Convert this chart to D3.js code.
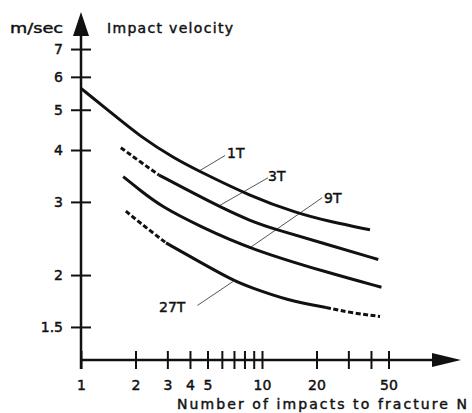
<!DOCTYPE html>
<html>
<head>
<meta charset="utf-8">
<script src="https://cdn.jsdelivr.net/npm/d3@7"></script>
<style>
  html, body { margin: 0; padding: 0; background: #fff; }
  svg { display: block; }
  text { font-family: "DejaVu Sans", sans-serif; fill: #111; stroke: #111; stroke-width: 0.45px; }
</style>
</head>
<body>
<svg id="chart" width="472" height="413"></svg>
<script>
// ---- data ----
const seriesNames = ["1T", "3T", "9T", "27T"];

// 1T (solid)
const t1N = [1, 1.41, 2.12, 3.31, 4.54, 8.59, 15.5, 23.7, 39.5];
const t1V = [5.63, 4.99, 4.31, 3.81, 3.55, 3.10, 2.82, 2.69, 2.57];

// 3T (dashed start, then solid)
const t3DashN = [1.66, 2.12, 2.70];
const t3DashV = [4.05, 3.75, 3.48];
const t3N = [2.70, 4.54, 5.86, 8.59, 12.06, 23.7, 43.9];
const t3V = [3.48, 3.09, 2.92, 2.70, 2.57, 2.36, 2.18];

// 9T (solid)
const t9N = [1.71, 2.12, 2.79, 4.54, 8.59, 23.7, 45.7];
const t9V = [3.45, 3.20, 2.92, 2.62, 2.31, 2.02, 1.87];

// 27T (dashed start, solid, dashed end)
const t27DashN = [1.77, 2.12, 2.95];
const t27DashV = [2.85, 2.67, 2.39];
const t27N = [2.95, 4.54, 7.09, 8.59, 13.7, 22.6];
const t27V = [2.39, 2.15, 1.93, 1.87, 1.74, 1.67];
const t27TailN = [22.6, 31.8, 44.9];
const t27TailV = [1.67, 1.62, 1.59];

const xTickValues = [1, 2, 3, 4, 5, 6, 7, 8, 9, 10, 20, 30, 40, 50];
const xTickLabels = ["1", "2", "3", "4", "5", "10", "20", "50"];
const yTickValues = [1.5, 2, 3, 4, 5, 6, 7];
const yTickLabels = ["1.5", "2", "3", "4", "5", "6", "7"];

// ---- drawing ----
const svg = d3.select("#chart");
const x = d3.scaleLog().domain([1, 10]).range([81, 262]);
const y = d3.scaleLog().domain([1, 10]).range([400.1, -15.3]);

const xAxisY = y(1.249);
const yAxisX = x(1);

// y axis (ticks crossing both sides)
const yAxisL = d3.axisLeft(y).tickValues(yTickValues)
  .tickFormat(d => yTickLabels[yTickValues.indexOf(d)])
  .tickSizeInner(10).tickSizeOuter(0).tickPadding(8);
const yAxisR = d3.axisRight(y).tickValues(yTickValues)
  .tickFormat("").tickSizeInner(10).tickSizeOuter(0);
const gyL = svg.append("g").attr("transform", `translate(${yAxisX},0)`).call(yAxisL);
const gyR = svg.append("g").attr("transform", `translate(${yAxisX},0)`).call(yAxisR);

// x axis (ticks crossing both sides)
const xAxisB = d3.axisBottom(x).tickValues(xTickValues)
  .tickFormat(d => xTickLabels.includes(String(d)) ? String(d) : "")
  .tickSizeInner(9).tickSizeOuter(0).tickPadding(11);
const xAxisT = d3.axisTop(x).tickValues(xTickValues)
  .tickFormat("").tickSizeInner(9).tickSizeOuter(0);
const gxB = svg.append("g").attr("transform", `translate(0,${xAxisY})`).call(xAxisB);
const gxT = svg.append("g").attr("transform", `translate(0,${xAxisY})`).call(xAxisT);

[gyL, gyR, gxB, gxT].forEach(g => {
  g.select(".domain").remove();
  g.selectAll(".tick line").attr("stroke", "#111").attr("stroke-width", 2);
  g.selectAll(".tick text").style("font-family", "DejaVu Sans, sans-serif")
    .style("font-size", "14px").attr("fill", "#111");
});

// axis lines with arrowheads
svg.append("line").attr("x1", yAxisX).attr("y1", xAxisY + 9)
  .attr("x2", yAxisX).attr("y2", 30)
  .attr("stroke", "#111").attr("stroke-width", 2.5);
svg.append("path")
  .attr("d", `M${yAxisX},12 L${yAxisX - 8},36 L${yAxisX + 8},36 Z`)
  .attr("fill", "#111");
svg.append("line").attr("x1", yAxisX).attr("y1", xAxisY)
  .attr("x2", 440).attr("y2", xAxisY)
  .attr("stroke", "#111").attr("stroke-width", 2.5);
svg.append("path")
  .attr("d", `M461,${xAxisY} L432,${xAxisY - 7} L432,${xAxisY + 7} Z`)
  .attr("fill", "#111");

// leader lines
const leaders = [
  { name: "1T", n1: 4.54, v1: 3.57, n2: 6.25, v2: 3.88, lx: 227, ly: 158 },
  { name: "3T", n1: 5.75, v1: 2.93, n2: 10.8, v2: 3.43, lx: 268, ly: 181 },
  { name: "9T", n1: 8.5, v1: 2.32, n2: 21.5, v2: 3.07, lx: 324, ly: 203 },
  { name: "27T", n1: 4.40, v1: 1.69, n2: 6.92, v2: 1.93, lx: 159, ly: 312 }
];
svg.append("g").selectAll("line").data(leaders).join("line")
  .attr("x1", d => x(d.n1)).attr("y1", d => y(d.v1))
  .attr("x2", d => x(d.n2)).attr("y2", d => y(d.v2))
  .attr("stroke", "#555").attr("stroke-width", 1);
svg.append("g").selectAll("text").data(leaders).join("text")
  .attr("x", d => d.lx).attr("y", d => d.ly)
  .style("font-size", "14px")
  .text(d => d.name);

// curves
const line = d3.line().x(d => x(d[0])).y(d => y(d[1])).curve(d3.curveBasis);
const zip = (a, b) => a.map((v, i) => [v, b[i]]);
const solidCurves = [zip(t1N, t1V), zip(t3N, t3V), zip(t9N, t9V), zip(t27N, t27V)];
const dashedCurves = [zip(t3DashN, t3DashV), zip(t27DashN, t27DashV), zip(t27TailN, t27TailV)];

svg.append("g").selectAll("path").data(solidCurves).join("path")
  .attr("d", line).attr("fill", "none")
  .attr("stroke", "#111").attr("stroke-width", 3).attr("stroke-linecap", "butt");
svg.append("g").selectAll("path").data(dashedCurves).join("path")
  .attr("d", line).attr("fill", "none")
  .attr("stroke", "#111").attr("stroke-width", 3).attr("stroke-dasharray", "5,2.5");

// titles
svg.append("text").attr("x", 10).attr("y", 33)
  .attr("textLength", 53).attr("lengthAdjust", "spacingAndGlyphs")
  .style("font-size", "14px").text("m/sec");
svg.append("text").attr("x", 107).attr("y", 33)
  .attr("textLength", 126).attr("lengthAdjust", "spacing")
  .style("font-size", "14px").text("Impact velocity");
svg.append("text").attr("x", 177).attr("y", 409)
  .attr("textLength", 290).attr("lengthAdjust", "spacing")
  .style("font-size", "14px").text("Number of impacts to fracture N");
</script>
</body>
</html>
